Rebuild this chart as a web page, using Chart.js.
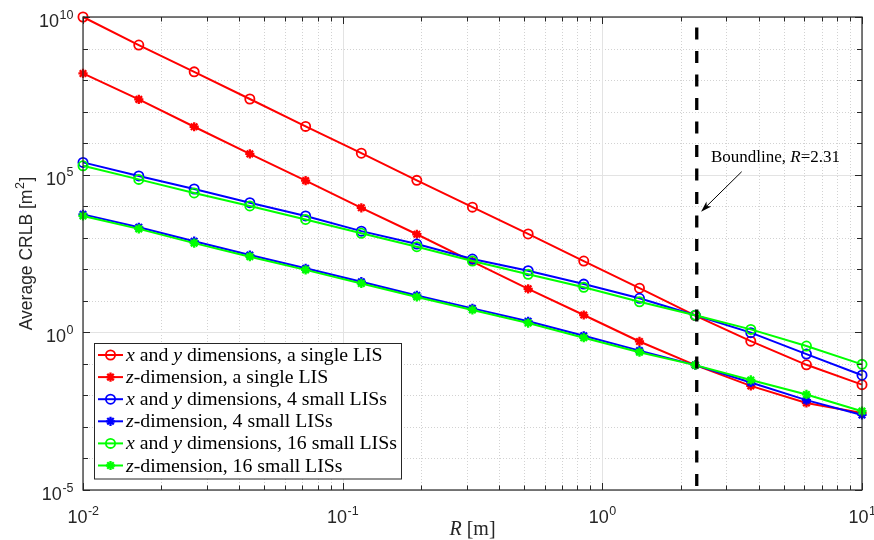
<!DOCTYPE html>
<html>
<head>
<meta charset="utf-8">
<script src="https://cdn.jsdelivr.net/npm/chart.js@4.4.1/dist/chart.umd.min.js"></script>
<style>
  html, body { margin: 0; padding: 0; background: #fff; }
  #wrap { width: 874px; height: 540px; }
</style>
</head>
<body>
<div id="wrap"><canvas id="crlbChart" width="874" height="540"></canvas></div>
<script>
// distance R [m]
const radii = [0.01, 0.0164, 0.0268, 0.0439, 0.072, 0.118, 0.193, 0.316, 0.518, 0.848, 1.39, 2.28, 3.73, 6.11, 10];

// average CRLB [m^2]
const xySingle = [1e10, 1.29e9, 1.82e8, 2.51e7, 3.39e6, 4.79e5, 6.61e4, 9.33e3, 1.32e3, 182, 25.1, 3.39, 0.525, 0.0933, 0.0219];
const zSingle = [1.62e8, 2.45e7, 3.31e6, 4.57e5, 6.46e4, 8.91e3, 1.29e3, 176, 24.0, 3.55, 0.513, 0.0912, 0.020, 5.75e-3, 2.75e-3];
const xyFour = [2.45e5, 9.12e4, 3.51e4, 1.29e4, 4.90e3, 1.62e3, 631, 211, 90.2, 33.9, 12.0, 3.47, 0.977, 0.204, 0.0437];
const zFour = [5.50e3, 2.14e3, 776, 282, 107, 40.3, 14.8, 5.75, 2.24, 0.776, 0.263, 0.0912, 0.0257, 7.08e-3, 2.40e-3];
const xySixteen = [1.91e5, 7.08e4, 2.63e4, 1.02e4, 3.80e3, 1.38e3, 519, 182, 69.2, 26.9, 9.33, 3.47, 1.24, 0.367, 0.0966];
const zSixteen = [4.90e3, 1.91e3, 676, 251, 95.5, 35.5, 13.2, 5.13, 1.97, 0.676, 0.234, 0.0912, 0.0309, 0.0107, 3.16e-3];

const seriesLabels = [
  "$x$ and $y$ dimensions, a single LIS",
  "$z$-dimension, a single LIS",
  "$x$ and $y$ dimensions, 4 small LISs",
  "$z$-dimension, 4 small LISs",
  "$x$ and $y$ dimensions, 16 small LISs",
  "$z$-dimension, 16 small LISs"
];

const xTickExps = [-2, -1, 0, 1];
const yTickExps = [-5, 0, 5, 10];
const boundline = 2.31;
const boundText = "Boundline, $R$=2.31";

// where the annotation sits, in data units
const note = { textX: 2.62, textY: 2.57e5, tailX: 3.44, tailY: 1.24e5, tipX: 2.4, tipY: 6.7e3 };

const AX = '#262626';
const SANS = '"Liberation Sans", Arial, sans-serif';
const SERIF = '"Liberation Serif", "Times New Roman", serif';

function series(vals, color, style, order) {
  return {
    data: radii.map((r, i) => ({ x: r, y: vals[i] })),
    borderColor: color,
    backgroundColor: color,
    borderWidth: 2,
    pointStyle: style,
    pointRadius: style === 'circle' ? 4.6 : 4.6,
    pointBorderWidth: style === 'circle' ? 1.8 : 2.3,
    pointBackgroundColor: style === 'circle' ? 'rgba(0,0,0,0)' : color,
    pointBorderColor: color,
    tension: 0,
    clip: false,
    order: order
  };
}

const sets = [
  series(xySingle, '#ff0000', 'circle', 6),
  series(zSingle, '#ff0000', 'star', 5),
  series(xyFour, '#0000ff', 'circle', 4),
  series(zFour, '#0000ff', 'star', 3),
  series(xySixteen, '#00ff00', 'circle', 2),
  series(zSixteen, '#00ff00', 'star', 1)
];

// draw "plain $italic$ plain" text, returns width
function richText(ctx, str, x, y, size, measureOnly) {
  const parts = str.split('$');
  let cx = x;
  parts.forEach((p, i) => {
    if (!p) return;
    ctx.font = (i % 2 ? 'italic ' : '') + size + 'px ' + SERIF;
    if (!measureOnly) ctx.fillText(p, cx, y);
    cx += ctx.measureText(p).width;
  });
  return cx - x;
}

function powLabel(ctx, exp, x, y, align) {
  ctx.font = '18px ' + SANS;
  const w10 = ctx.measureText('10').width;
  ctx.font = '12.5px ' + SANS;
  const we = ctx.measureText(String(exp)).width;
  let left = x;
  if (align === 'right') left = x - w10 - we;
  if (align === 'center') left = x - (w10 + we) / 2;
  ctx.textAlign = 'left';
  ctx.font = '18px ' + SANS;
  ctx.fillText('10', left, y);
  ctx.font = '12.5px ' + SANS;
  ctx.fillText(String(exp), left + w10 + 0.5, y - 8.5);
}

const matlabAxes = {
  id: 'matlabAxes',
  beforeDatasetsDraw(chart) {
    const { ctx, chartArea: a, scales: { x, y } } = chart;
    const xMinor = [], yMinor = [];
    for (let e = -2; e < 1; e++) for (let k = 2; k < 10; k++) xMinor.push(k * Math.pow(10, e));
    for (let e = -5; e <= 10; e++) if (!yTickExps.includes(e)) yMinor.push(Math.pow(10, e));

    ctx.save();
    ctx.lineWidth = 1;
    ctx.strokeStyle = '#d2d2d2';
    ctx.setLineDash([1, 2]);
    xMinor.forEach(v => {
      const px = Math.round(x.getPixelForValue(v)) + 0.5;
      ctx.beginPath(); ctx.moveTo(px, a.top); ctx.lineTo(px, a.bottom); ctx.stroke();
    });
    yMinor.forEach(v => {
      const py = Math.round(y.getPixelForValue(v)) + 0.5;
      ctx.beginPath(); ctx.moveTo(a.left, py); ctx.lineTo(a.right, py); ctx.stroke();
    });
    ctx.setLineDash([]);
    ctx.strokeStyle = '#e3e3e3';
    xTickExps.forEach(e => {
      const px = Math.round(x.getPixelForValue(Math.pow(10, e))) + 0.5;
      ctx.beginPath(); ctx.moveTo(px, a.top); ctx.lineTo(px, a.bottom); ctx.stroke();
    });
    yTickExps.forEach(e => {
      const py = Math.round(y.getPixelForValue(Math.pow(10, e))) + 0.5;
      ctx.beginPath(); ctx.moveTo(a.left, py); ctx.lineTo(a.right, py); ctx.stroke();
    });
    ctx.restore();
    chart.$minor = { xMinor, yMinor };
  },
  afterDatasetsDraw(chart) {
    const { ctx, chartArea: a, scales: { x, y } } = chart;
    const { xMinor, yMinor } = chart.$minor;
    ctx.save();

    // boundline
    const bx = x.getPixelForValue(boundline);
    ctx.strokeStyle = '#000';
    ctx.lineWidth = 3.3;
    ctx.setLineDash([12, 11.5]);
    ctx.lineDashOffset = 13;
    ctx.beginPath(); ctx.moveTo(bx, a.top); ctx.lineTo(bx, a.bottom); ctx.stroke();
    ctx.setLineDash([]);

    // box + ticks
    ctx.strokeStyle = AX;
    ctx.lineWidth = 1.2;
    ctx.strokeRect(a.left, a.top, a.right - a.left, a.bottom - a.top);
    ctx.lineWidth = 1;
    const tick = (px, len) => {
      ctx.beginPath();
      ctx.moveTo(px, a.bottom); ctx.lineTo(px, a.bottom - len);
      ctx.moveTo(px, a.top); ctx.lineTo(px, a.top + len);
      ctx.stroke();
    };
    xMinor.forEach(v => tick(Math.round(x.getPixelForValue(v)) + 0.5, 4.5));
    xTickExps.forEach(e => tick(Math.round(x.getPixelForValue(Math.pow(10, e))) + 0.5, 7));
    const ytick = (py, len) => {
      ctx.beginPath();
      ctx.moveTo(a.left, py); ctx.lineTo(a.left + len, py);
      ctx.moveTo(a.right, py); ctx.lineTo(a.right - len, py);
      ctx.stroke();
    };
    yMinor.forEach(v => ytick(Math.round(y.getPixelForValue(v)) + 0.5, 5));
    yTickExps.forEach(e => ytick(Math.round(y.getPixelForValue(Math.pow(10, e))) + 0.5, 7));

    // tick labels
    ctx.fillStyle = AX;
    ctx.textBaseline = 'alphabetic';
    xTickExps.forEach(e => powLabel(ctx, e, x.getPixelForValue(Math.pow(10, e)), a.bottom + 33, 'center'));
    yTickExps.forEach(e => powLabel(ctx, e, a.left - 10, y.getPixelForValue(Math.pow(10, e)) + 10, 'right'));

    // axis titles
    ctx.textAlign = 'left';
    const xw = richText(ctx, '$R$ [m]', 0, 0, 20, true);
    richText(ctx, '$R$ [m]', (a.left + a.right) / 2 - xw / 2, 535, 20);

    ctx.save();
    ctx.translate(32, 254);
    ctx.rotate(-Math.PI / 2);
    ctx.font = '17.5px ' + SANS;
    const s1 = 'Average CRLB [m', s3 = ']';
    const w1 = ctx.measureText(s1).width, w3 = ctx.measureText(s3).width;
    ctx.font = '12.5px ' + SANS;
    const w2 = ctx.measureText('2').width;
    let sx = -(w1 + w2 + w3) / 2;
    ctx.font = '17.5px ' + SANS;
    ctx.fillText(s1, sx, 0);
    ctx.font = '12.5px ' + SANS;
    ctx.fillText('2', sx + w1 + 0.5, -8);
    ctx.font = '17.5px ' + SANS;
    ctx.fillText(s3, sx + w1 + w2 + 1, 0);
    ctx.restore();

    // annotation
    ctx.fillStyle = '#000';
    richText(ctx, boundText, x.getPixelForValue(note.textX), y.getPixelForValue(note.textY), 17);
    const tx = x.getPixelForValue(note.tailX), ty = y.getPixelForValue(note.tailY);
    const hx = x.getPixelForValue(note.tipX), hy = y.getPixelForValue(note.tipY);
    const ang = Math.atan2(hy - ty, hx - tx);
    ctx.strokeStyle = '#000';
    ctx.lineWidth = 1;
    ctx.beginPath(); ctx.moveTo(tx, ty); ctx.lineTo(hx - 6 * Math.cos(ang), hy - 6 * Math.sin(ang)); ctx.stroke();
    ctx.beginPath();
    ctx.moveTo(hx, hy);
    ctx.lineTo(hx - 11 * Math.cos(ang) + 3.5 * Math.sin(ang), hy - 11 * Math.sin(ang) - 3.5 * Math.cos(ang));
    ctx.lineTo(hx - 8 * Math.cos(ang), hy - 8 * Math.sin(ang));
    ctx.lineTo(hx - 11 * Math.cos(ang) - 3.5 * Math.sin(ang), hy - 11 * Math.sin(ang) + 3.5 * Math.cos(ang));
    ctx.closePath();
    ctx.fill();

    // legend
    const lx = a.left + 11, ly = 343.5, lw = 307, lh = 135.5, rowH = 22.1;
    ctx.fillStyle = '#fff';
    ctx.fillRect(lx, ly, lw, lh);
    ctx.strokeStyle = AX;
    ctx.lineWidth = 1;
    ctx.strokeRect(lx + 0.5, ly, lw, lh);
    sets.forEach((ds, i) => {
      const cy = ly + 11.5 + i * rowH;
      ctx.strokeStyle = ds.borderColor;
      ctx.lineWidth = 2;
      ctx.beginPath(); ctx.moveTo(lx + 4, cy); ctx.lineTo(lx + 29, cy); ctx.stroke();
      ctx.fillStyle = ds.pointBackgroundColor;
      ctx.lineWidth = ds.pointBorderWidth;
      Chart.helpers.drawPoint(ctx, { pointStyle: ds.pointStyle, radius: ds.pointRadius, rotation: 0, borderWidth: ds.pointBorderWidth }, lx + 16.5, cy);
      ctx.fillStyle = '#000';
      ctx.textAlign = 'left';
      richText(ctx, seriesLabels[i], lx + 32, cy + 6, 19.8);
    });

    ctx.restore();
  }
};

new Chart(document.getElementById('crlbChart'), {
  type: 'line',
  data: { datasets: sets },
  options: {
    responsive: false,
    animation: false,
    devicePixelRatio: 1,
    layout: { padding: { left: 83, right: 12, top: 17, bottom: 50 } },
    plugins: { legend: { display: false }, tooltip: { enabled: false } },
    scales: {
      x: { type: 'logarithmic', min: 0.01, max: 10, display: false },
      y: { type: 'logarithmic', min: 1e-5, max: 1e10, display: false }
    }
  },
  plugins: [matlabAxes]
});
</script>
</body>
</html>
